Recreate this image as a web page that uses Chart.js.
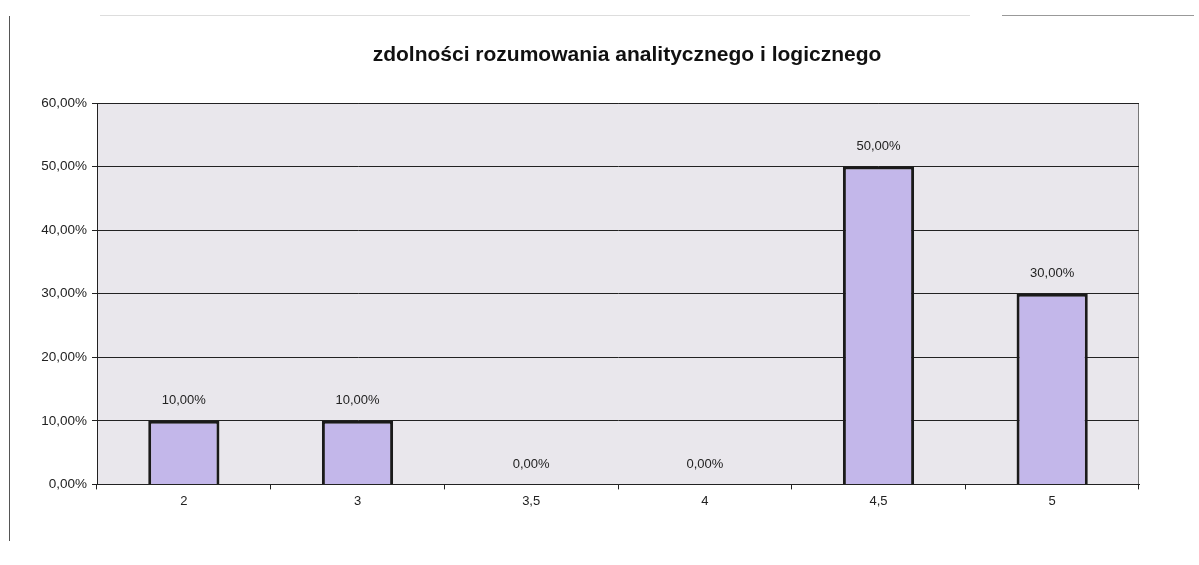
<!DOCTYPE html>
<html>
<head>
<meta charset="utf-8">
<script src="https://cdn.jsdelivr.net/npm/chart.js@4.4.0/dist/chart.umd.min.js"></script>
<style>
  html, body { margin: 0; padding: 0; background: #fff; }
  #wrap { position: relative; width: 1199px; height: 565px; }
  .deco { position: absolute; background: #555; }
</style>
</head>
<body>
<div id="wrap">
  <canvas id="chart" width="1199" height="565"></canvas>
  <div class="deco" style="left:9px; top:16px; width:1px; height:525px;"></div>
  <div class="deco" style="left:100px; top:15px; width:870px; height:1px; background:#ddd;"></div>
  <div class="deco" style="left:1002px; top:15px; width:192px; height:1px; background:#999;"></div>
</div>
<script>
const categories = ["2", "3", "3,5", "4", "4,5", "5"];
const values = [10, 10, 0, 0, 50, 30];
const yTicks = [0, 10, 20, 30, 40, 50, 60];
const title = "zdolności rozumowania analitycznego i logicznego";

const FONT = "'Liberation Sans', Arial, sans-serif";

function pct(v) {
  return v.toFixed(2).replace(".", ",") + "%";
}

const plotBackground = {
  id: "plotBackground",
  beforeDraw(chart) {
    const { ctx, chartArea: a } = chart;
    ctx.save();
    ctx.fillStyle = "#e9e7ec";
    ctx.fillRect(a.left, a.top, a.right - a.left, a.bottom - a.top);
    ctx.strokeStyle = "#777";
    ctx.lineWidth = 1;
    ctx.beginPath();
    ctx.moveTo(a.left, a.top + 0.5);
    ctx.lineTo(a.right - 0.5, a.top + 0.5);
    ctx.lineTo(a.right - 0.5, a.bottom);
    ctx.stroke();
    ctx.restore();
  },
};

// title sits a bit right of the plot centre in the original
const titleText = {
  id: "titleText",
  afterDraw(chart) {
    const { ctx } = chart;
    ctx.save();
    ctx.font = "bold 21px " + FONT;
    ctx.fillStyle = "#111";
    ctx.textAlign = "center";
    ctx.textBaseline = "middle";
    ctx.fillText(title, 627, 55);
    ctx.restore();
  },
};

const valueLabels = {
  id: "valueLabels",
  afterDatasetsDraw(chart) {
    const { ctx } = chart;
    const meta = chart.getDatasetMeta(0);
    ctx.save();
    ctx.font = "13px " + FONT;
    ctx.fillStyle = "#222";
    ctx.textAlign = "center";
    ctx.textBaseline = "middle";
    meta.data.forEach((bar, i) => {
      ctx.fillText(pct(values[i]), bar.x, bar.y - 20);
    });
    ctx.restore();
  },
};

new Chart("chart", {
  type: "bar",
  data: {
    labels: categories,
    datasets: [
      {
        data: values,
        backgroundColor: "#c3b7ea",
        borderColor: "#1a1a1a",
        borderWidth: 3,
        barPercentage: 0.41,
        categoryPercentage: 1,
      },
    ],
  },
  options: {
    responsive: false,
    animation: false,
    layout: {
      padding: { left: 0, right: 60, top: 103, bottom: 52 },
    },
    plugins: {
      legend: { display: false },
      tooltip: { enabled: false },
      title: { display: false },
    },
    scales: {
      x: {
        offset: true,
        grid: {
          offset: true,
          drawOnChartArea: false,
          color: "#222",
          tickLength: 5,
        },
        border: { color: "#222", width: 1 },
        ticks: {
          color: "#222",
          padding: 4,
          font: { family: FONT, size: 13 },
        },
      },
      y: {
        min: 0,
        max: 60,
        afterFit(scale) {
          scale.width = 97;
        },
        afterBuildTicks(scale) {
          scale.ticks = yTicks.map((v) => ({ value: v }));
        },
        grid: {
          color: "#222",
          tickLength: 5,
        },
        border: { color: "#222", width: 1 },
        ticks: {
          color: "#222",
          padding: 5,
          font: { family: FONT, size: 13.5 },
          callback: (v) => pct(v),
        },
      },
    },
  },
  plugins: [plotBackground, valueLabels, titleText],
});
</script>
</body>
</html>
